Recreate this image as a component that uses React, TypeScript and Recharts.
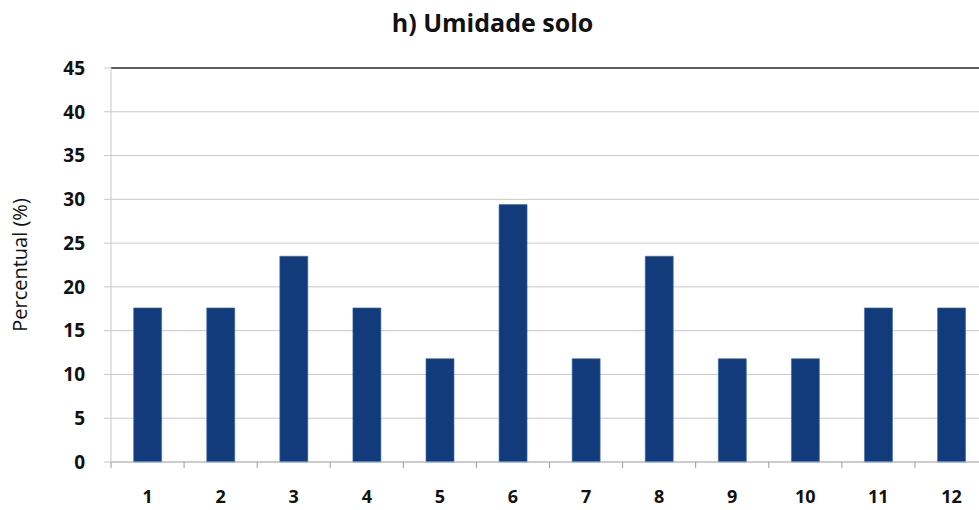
import { BarChart, Bar, XAxis, YAxis, CartesianGrid, ReferenceLine } from "recharts";

const months = ["1", "2", "3", "4", "5", "6", "7", "8", "9", "10", "11", "12"];
const percent = [17.6, 17.6, 23.5, 17.6, 11.8, 29.4, 11.8, 23.5, 11.8, 11.8, 17.6, 17.6];
const yTicks = [0, 5, 10, 15, 20, 25, 30, 35, 40, 45];

const data = months.map((m, i) => ({ month: m, value: percent[i] }));

const font = "'Open Sans', 'DejaVu Sans', sans-serif";

const BAND = (988 - 111) / months.length;

// label centred on the category, tick mark drawn on the left boundary like Excel does
const MonthTick = (props: any) => {
  const { x, y, payload } = props;
  return (
    <g>
      <line x1={x - BAND / 2} x2={x - BAND / 2} y1={y - 28} y2={y - 22} stroke="#9a9a9a" />
      <text x={x} y={y} dy="0.71em" textAnchor="middle" fill="#111" fontSize={18} fontWeight={700} fontFamily={font}>
        {payload.value}
      </text>
    </g>
  );
};

export default function App() {
  return (
    <div style={{ position: "absolute", left: 0, top: 0, width: 979, height: 510, overflow: "hidden", background: "#fff", fontFamily: font }}>
      <div style={{ position: "absolute", left: 0, top: 5, width: 985, textAlign: "center", fontSize: 25, fontWeight: 700, color: "#111" }}>
        h) Umidade solo
      </div>
      <BarChart width={990} height={510} data={data} margin={{ top: 68, right: 2, bottom: 0, left: 0 }} barCategoryGap="31%">
        <CartesianGrid vertical={false} stroke="#c9c9c9" />
        <XAxis
          dataKey="month"
          height={48}
          interval={0}
          stroke="#b5b5b5"
          tickLine={false}
          tickSize={0}
          tickMargin={28}
          tick={<MonthTick />}
        />
        <YAxis
          domain={[0, 45]}
          ticks={yTicks}
          width={111}
          stroke="#c9c9c9"
          tickSize={7}
          tickMargin={19}
          tick={{ fill: "#111", fontSize: 19, fontWeight: 700, fontFamily: font }}
          label={{ value: "Percentual (%)", angle: -90, position: "insideLeft", offset: 20, style: { fill: "#111", fontSize: 20, fontFamily: font, textAnchor: "middle" } }}
        />
        <ReferenceLine y={45} stroke="#333" strokeWidth={1.5} />
        <Bar dataKey="value" fill="#123b7c" stroke="#3d6db0" strokeWidth={0.6} isAnimationActive={false} />
      </BarChart>
    </div>
  );
}
